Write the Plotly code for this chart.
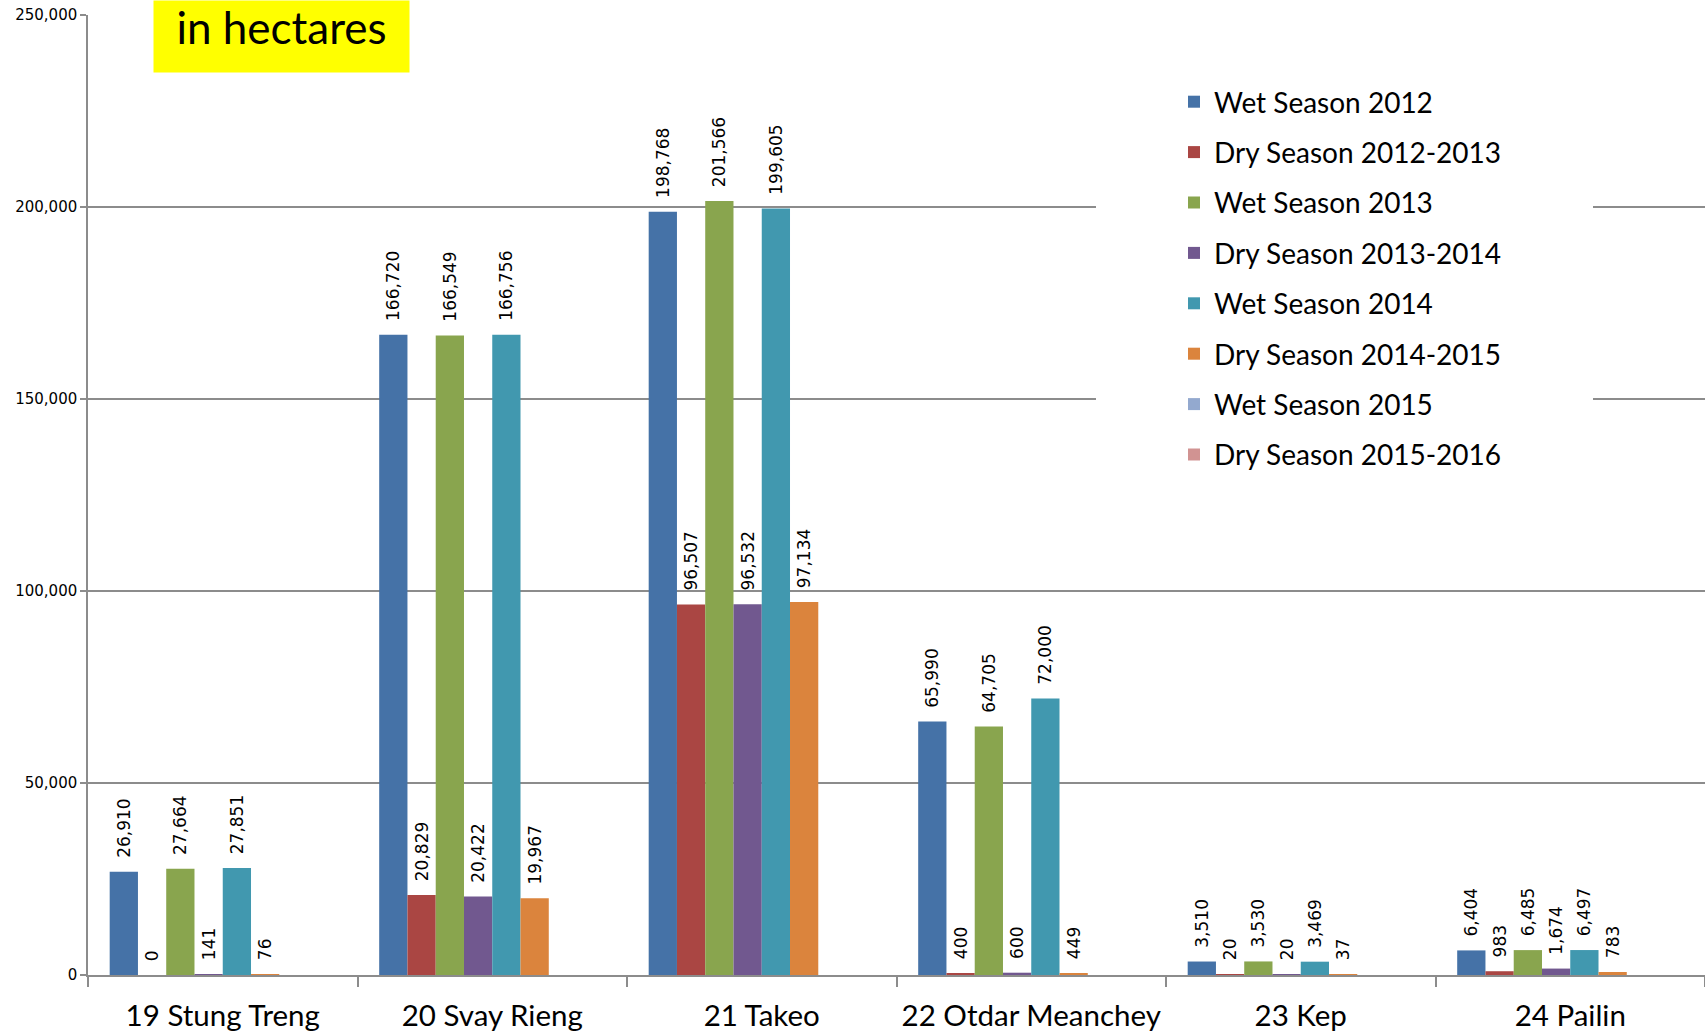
import plotly.graph_objects as go

categories = ["19 Stung Treng", "20 Svay Rieng", "21 Takeo", "22 Otdar Meanchey", "23 Kep", "24 Pailin"]

series_names = [
    "Wet Season 2012", "Dry Season 2012-2013", "Wet Season 2013", "Dry Season 2013-2014",
    "Wet Season 2014", "Dry Season 2014-2015", "Wet Season 2015", "Dry Season 2015-2016",
]

wet_2012 = [26910, 166720, 198768, 65990, 3510, 6404]
dry_2012_2013 = [0, 20829, 96507, 400, 20, 983]
wet_2013 = [27664, 166549, 201566, 64705, 3530, 6485]
dry_2013_2014 = [141, 20422, 96532, 600, 20, 1674]
wet_2014 = [27851, 166756, 199605, 72000, 3469, 6497]
dry_2014_2015 = [76, 19967, 97134, 449, 37, 783]
wet_2015 = [None, None, None, None, None, None]
dry_2015_2016 = [None, None, None, None, None, None]

series_values = [wet_2012, dry_2012_2013, wet_2013, dry_2013_2014,
                 wet_2014, dry_2014_2015, wet_2015, dry_2015_2016]

colors = ["#4572A7", "#AA4643", "#89A54E", "#71588F", "#4198AF", "#DB843D", "#93A9CF", "#D19392"]

y_ticks = [0, 50000, 100000, 150000, 200000, 250000]

W, H = 1705, 1034
L, R, T, B = 88, 0, 15, 59
pw = W - L - R
ph = H - T - B

fig = go.Figure()
for name, vals, col in zip(series_names, series_values, colors):
    fig.add_trace(go.Bar(
        name=name, x=categories, y=vals,
        marker=dict(color=col, line=dict(width=0)),
        text=[("\u00a0\u00a0" + f"{v:,}") if v is not None else "" for v in vals],
        textposition="outside", textangle=-90, constraintext="none",
        textfont=dict(family="DejaVu Sans", size=17, color="#000000"),
        cliponaxis=False, legendgroup=name,
    ))

grey = "#8c8c8c"
fig.update_layout(
    width=W, height=H,
    margin=dict(l=L, r=R, t=T, b=B, autoexpand=False),
    paper_bgcolor="white", plot_bgcolor="white",
    barmode="group", bargap=0.161, bargroupgap=0,
    showlegend=True,
    legend=dict(
        x=(1174 - L) / pw, y=1 - (77 - T) / ph, xanchor="left", yanchor="top",
        bgcolor="rgba(0,0,0,0)", borderwidth=0,
        font=dict(family="Lato", size=28, color="#000000"),
        tracegroupgap=11, traceorder="grouped",
    ),
    xaxis=dict(
        type="category", tickson="boundaries", ticks="outside", ticklen=10,
        tickcolor=grey, tickwidth=1.5, showline=True, linecolor=grey, linewidth=1.5,
        showgrid=False, tickfont=dict(family="Lato", size=29.5, color="#000000"),
        ticklabelstandoff=14,
    ),
    yaxis=dict(
        range=[0, 250000], tickvals=y_ticks, tickformat=",", ticks="outside",
        ticklen=6, tickcolor=grey, tickwidth=1.5, showline=True, linecolor=grey,
        linewidth=1.5, showgrid=True, gridcolor=grey, gridwidth=1.5, zeroline=False,
        tickfont=dict(family="DejaVu Sans", size=15, color="#000000"),
    ),
    shapes=[dict(
        type="rect", xref="paper", yref="paper",
        x0=(1096 - L) / pw, x1=(1593 - L) / pw,
        y0=1 - (480 - T) / ph, y1=1 - (45 - T) / ph,
        fillcolor="white", line=dict(width=0), layer="above",
    )],
    annotations=[dict(
        text="in hectares", xref="paper", yref="paper",
        x=(153 - L) / pw, y=1 + T / ph, xanchor="left", yanchor="top",
        showarrow=False, bgcolor="#FFFF00", width=255, height=71, borderpad=0,
        font=dict(family="Lato", size=44, color="#000000"), align="center",
        valign="top",
    )],
)

fig.write_html("out.html", config={"displayModeBar": False},
               post_script="document.body.style.margin='0';")
